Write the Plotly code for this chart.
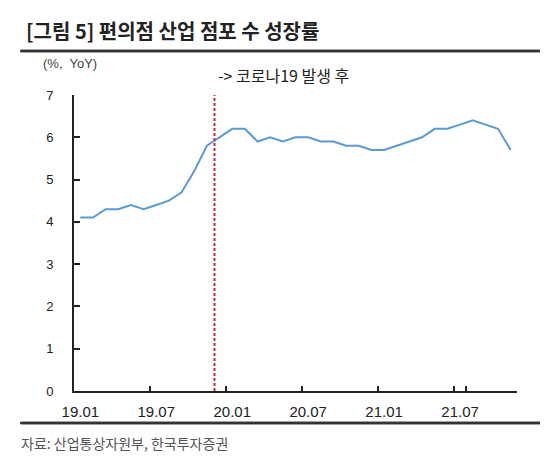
import plotly.graph_objects as go

# monthly convenience store count growth, % YoY
months = ["19.01", "19.02", "19.03", "19.04", "19.05", "19.06", "19.07", "19.08", "19.09",
          "19.10", "19.11", "19.12", "20.01", "20.02", "20.03", "20.04", "20.05", "20.06",
          "20.07", "20.08", "20.09", "20.10", "20.11", "20.12", "21.01", "21.02", "21.03",
          "21.04", "21.05", "21.06", "21.07", "21.08", "21.09", "21.10", "21.11"]
growth = [4.1, 4.1, 4.3, 4.3, 4.4, 4.3, 4.4, 4.5, 4.7, 5.2, 5.8, 6.0, 6.2, 6.2, 5.9, 6.0, 5.9, 6.0,
          6.0, 5.9, 5.9, 5.8, 5.8, 5.7, 5.7, 5.8, 5.9, 6.0, 6.2, 6.2, 6.3, 6.4, 6.3, 6.2, 5.7]
covid_x = 10.6  # between 19.11 and 19.12
label_every = 6

kr = "Noto Sans CJK KR"

fig = go.Figure()
fig.add_trace(go.Scatter(x=months, y=growth, mode="lines",
                         line=dict(color="#5B9BD5", width=2), showlegend=False))

fig.add_shape(type="line", x0=covid_x, x1=covid_x, y0=0, y1=7, xref="x", yref="y",
              line=dict(color="#D0283C", width=2, dash="3px,2px"))

# header/footer rules (margins are zero, so paper = whole picture)
for ry in (0.9065, 0.0978):
    fig.add_shape(type="line", xref="paper", yref="paper", x0=0.022, x1=0.967, y0=ry, y1=ry,
                  line=dict(color="#333", width=2.5))
    # same rule again as an arrow-only annotation
    fig.add_annotation(x=0.967, y=ry, xref="paper", yref="paper", text="", showarrow=True,
                       ax=-520, ay=0, arrowhead=0, arrowwidth=2.5, arrowcolor="#333",
                       standoff=0, startstandoff=0)

fig.add_annotation(x=covid_x + 0.1, y=0.854, xref="x", yref="paper", text="-> 코로나19 발생 후",
                   showarrow=False, xanchor="left", yanchor="middle",
                   font=dict(family=kr, size=16, color="#222"))
fig.add_annotation(x=0.029, y=0.952, xref="paper", yref="paper", text="<b>[그림 5] 편의점 산업 점포 수 성장률</b>",
                   showarrow=False, xanchor="left", yanchor="middle",
                   font=dict(family=kr, size=20, color="#222"))
fig.add_annotation(x=0.06, y=0.8804, xref="paper", yref="paper", text="(%,  YoY)",
                   showarrow=False, xanchor="left", yanchor="middle",
                   font=dict(family="Liberation Sans", size=13, color="#444"))
fig.add_annotation(x=0.02, y=0.0543, xref="paper", yref="paper", text="자료: 산업통상자원부, 한국투자증권",
                   showarrow=False, xanchor="left", yanchor="middle",
                   font=dict(family=kr, size=14, color="#555"))

fig.update_layout(
    xaxis=dict(type="category", range=[-0.5, len(months) - 0.5], domain=[0.12, 0.9255],
               automargin=False, showgrid=False, zeroline=False,
               showline=True, linecolor="#222", linewidth=2,
               tickvals=months[::label_every], tickson="boundaries", tickangle=0,
               ticks="inside", ticklen=5, tickcolor="#222", tickwidth=1.5,
               ticklabelstandoff=6,
               tickfont=dict(family="Liberation Sans", size=15, color="#222")),
    yaxis=dict(range=[0, 7], dtick=1, domain=[0.1674, 0.8109], automargin=False,
               showgrid=False, zeroline=False,
               showline=True, linecolor="#222", linewidth=2,
               ticks="inside", ticklen=6, tickcolor="#222", tickwidth=1.5,
               ticklabelstandoff=16,
               tickfont=dict(family="Liberation Sans", size=13, color="#222")),
    # page body adds an 8px offset; positions above are shifted back by it
    width=550, height=460, margin=dict(l=0, r=0, t=0, b=0),
    plot_bgcolor="white", paper_bgcolor="white",
)

fig.write_html("out.html")
